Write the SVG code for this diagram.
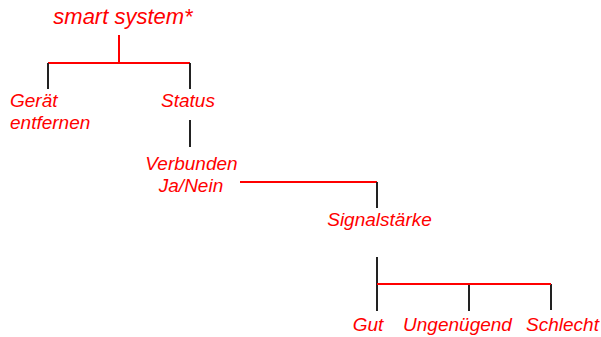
<svg xmlns="http://www.w3.org/2000/svg" width="601" height="337" viewBox="0 0 601 337">
<style>
text{font-family:"Liberation Sans",Arial,sans-serif;font-style:italic;fill:#ff0000;font-size:19px}
.t{font-size:22px}
.r{stroke:#ff0000;stroke-width:2;fill:none}
.k{stroke:#222;stroke-width:2;fill:none}
</style>
<rect width="601" height="337" fill="#fff"/>
<g id="connectors">
<path class="r" d="M119,35V63M48,63H190"/>
<path class="k" d="M48,63V89M190,63V89"/>
<path class="k" d="M190,120V147"/>
<path class="r" d="M240,182H377"/>
<path class="k" d="M377,182V208"/>
<path class="k" d="M377,257V311M469,284V311M551,284V310"/>
<path class="r" d="M377,284H551"/>
</g>
<g id="n-root"><text class="t" x="123" y="24" text-anchor="middle">smart system*</text></g>
<g id="n-geraet"><text x="10" y="107">Gerät</text><text x="10" y="129">entfernen</text></g>
<g id="n-status"><text x="188" y="107" text-anchor="middle">Status</text></g>
<g id="n-verbunden"><text x="191.5" y="170" text-anchor="middle">Verbunden</text><text x="191" y="192" text-anchor="middle">Ja/Nein</text></g>
<g id="n-signal"><text x="379.5" y="226" text-anchor="middle">Signalstärke</text></g>
<g id="n-gut"><text x="368" y="331" text-anchor="middle">Gut</text></g>
<g id="n-ungenuegend"><text x="457.5" y="331" text-anchor="middle">Ungenügend</text></g>
<g id="n-schlecht"><text x="562.5" y="331" text-anchor="middle">Schlecht</text></g>
</svg>
